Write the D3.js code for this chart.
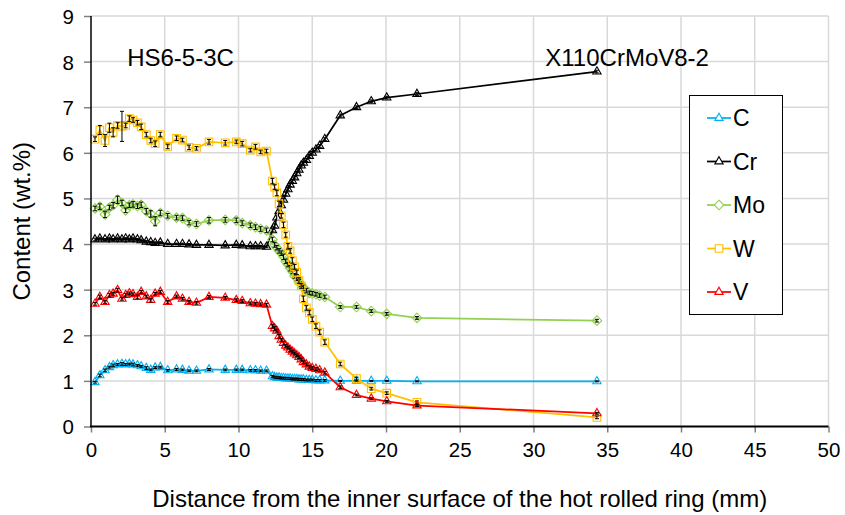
<!DOCTYPE html>
<html>
<head>
<meta charset="utf-8">
<script src="https://cdn.jsdelivr.net/npm/d3@7"></script>
<style>
  html, body { margin: 0; padding: 0; background: #fff; }
  svg { display: block; font-family: "Liberation Sans", Arial, sans-serif; }
</style>
</head>
<body>
<svg id="chart" width="845" height="515"></svg>
<script>
// ---------------- DATA ----------------
const distance = [
  0.27, 0.6, 0.95, 1.25, 1.5, 1.8, 2.1, 2.35, 2.6, 2.85, 3.15, 3.4, 3.75, 4.05, 4.35, 4.7,
  5.2, 5.8, 6.2, 6.65, 7.15, 8.0, 9.1, 9.85, 10.25, 10.8, 11.15, 11.5, 11.9,
  12.3, 12.45, 12.6, 12.75, 12.9, 13.05, 13.2, 13.35, 13.5, 13.65, 13.8, 13.95, 14.1, 14.25, 14.4, 14.6, 14.8, 15.0, 15.25, 15.5, 15.85,
  16.9, 18.0, 19.0, 20.05, 22.1, 34.3
];
const seriesNames = ["C", "Cr", "Mo", "W", "V"];
const valC = [
  0.97, 1.12, 1.23, 1.3, 1.34, 1.36, 1.37, 1.36, 1.37, 1.36, 1.34, 1.32, 1.28, 1.24, 1.29, 1.3,
  1.23, 1.25, 1.24, 1.22, 1.22, 1.25, 1.24, 1.24, 1.24, 1.23, 1.23, 1.22, 1.22,
  1.1, 1.08, 1.07, 1.07, 1.06, 1.06, 1.05, 1.05, 1.05, 1.04, 1.04, 1.04, 1.03, 1.03, 1.03, 1.02, 1.02, 1.02, 1.01, 1.01, 1.01,
  1.0, 1.0, 1.0, 1.0, 0.99, 0.99
];
const valCr = [
  4.1, 4.12, 4.1, 4.12, 4.1, 4.12, 4.1, 4.12, 4.1, 4.12, 4.1, 4.08, 4.05, 4.04, 4.02, 4.03,
  4.0, 4.0, 4.0, 3.99, 3.98, 3.98, 3.97, 3.98, 3.97, 3.95, 3.95, 3.95, 3.94,
  4.3, 4.4, 4.58, 4.72, 4.85, 4.97, 5.1, 5.2, 5.3, 5.38, 5.46, 5.55, 5.63, 5.72, 5.78, 5.84, 5.93, 6.0, 6.07, 6.15, 6.3,
  6.82, 7.0, 7.13, 7.21, 7.29, 7.78
];
const valMo = [
  4.78, 4.82, 4.65, 4.8, 4.85, 4.97, 4.9, 4.74, 4.85, 4.87, 4.83, 4.86, 4.72, 4.66, 4.5, 4.68,
  4.62, 4.58, 4.57, 4.47, 4.44, 4.52, 4.53, 4.52, 4.46, 4.41, 4.37, 4.33, 4.3,
  4.1, 3.98, 3.92, 3.85, 3.8, 3.72, 3.62, 3.55, 3.47, 3.4, 3.3, 3.26, 3.17, 3.12, 3.04, 2.98, 2.93, 2.92, 2.9, 2.87, 2.84,
  2.62, 2.62, 2.53, 2.47, 2.38, 2.32
];
const valW = [
  6.3, 6.5, 6.27, 6.55, 6.45, 6.6, 6.58, 6.6, 6.75, 6.72, 6.66, 6.57, 6.4, 6.27, 6.2, 6.4,
  6.14, 6.32, 6.28, 6.12, 6.1, 6.24, 6.22, 6.24, 6.2, 6.06, 6.13, 6.02, 6.04,
  5.38, 5.25, 5.12, 4.88, 4.62, 4.42, 4.2, 3.95, 3.85, 3.64, 3.5, 3.38, 3.2, 3.08, 2.8, 2.6, 2.5, 2.35, 2.2, 2.07, 1.85,
  1.37, 1.05, 0.83, 0.73, 0.53, 0.2
];
const valV = [
  2.69, 2.84, 2.73, 2.88, 2.91, 2.99, 2.8, 2.88, 2.92, 2.9, 2.84, 2.95, 2.85, 2.77, 2.91, 2.95,
  2.73, 2.85, 2.8, 2.73, 2.71, 2.84, 2.82, 2.77, 2.75, 2.7, 2.69, 2.68, 2.67,
  2.2, 2.15, 2.1, 1.98, 1.9, 1.83, 1.77, 1.73, 1.68, 1.64, 1.6, 1.56, 1.52, 1.47, 1.41, 1.36, 1.31, 1.28, 1.26, 1.23, 1.18,
  0.86, 0.69, 0.61, 0.55, 0.46, 0.29
];
// error bar half-widths (wt.%)
const errC = [
  0.02, 0.03, 0.03, 0.02, 0.03, 0.02, 0.03, 0.02, 0.02, 0.03, 0.02, 0.02, 0.03, 0.02, 0.02, 0.02,
  0.02, 0.02, 0.02, 0.02, 0.02, 0.02, 0.02, 0.02, 0.02, 0.02, 0.02, 0.02, 0.02,
  0.02, 0.02, 0.02, 0.02, 0.02, 0.02, 0.02, 0.02, 0.02, 0.02, 0.02, 0.02, 0.02, 0.02, 0.02, 0.02, 0.02, 0.02, 0.02, 0.02, 0.02,
  0.01, 0.01, 0.01, 0.01, 0.01, 0.01
];
const errCr = [
  0.03, 0.03, 0.02, 0.03, 0.02, 0.03, 0.03, 0.02, 0.03, 0.03, 0.02, 0.03, 0.03, 0.02, 0.03, 0.02,
  0.02, 0.02, 0.02, 0.02, 0.02, 0.02, 0.02, 0.02, 0.02, 0.02, 0.02, 0.02, 0.02,
  0.03, 0.04, 0.04, 0.03, 0.04, 0.03, 0.04, 0.03, 0.04, 0.03, 0.03, 0.04, 0.03, 0.03, 0.03, 0.03, 0.03, 0.03, 0.03, 0.03, 0.03,
  0.03, 0.03, 0.03, 0.03, 0.03, 0.03
];
const errMo = [
  0.05, 0.06, 0.07, 0.05, 0.06, 0.08, 0.06, 0.05, 0.05, 0.06, 0.05, 0.06, 0.06, 0.07, 0.1, 0.06,
  0.05, 0.05, 0.05, 0.05, 0.05, 0.06, 0.05, 0.05, 0.05, 0.05, 0.05, 0.05, 0.05,
  0.05, 0.05, 0.05, 0.05, 0.05, 0.06, 0.05, 0.05, 0.06, 0.05, 0.05, 0.06, 0.05, 0.05, 0.06, 0.05, 0.04, 0.04, 0.04, 0.04, 0.04,
  0.03, 0.03, 0.03, 0.03, 0.03, 0.03
];
const errW = [
  0.05, 0.1, 0.13, 0.1, 0.1, 0.06, 0.33, 0.05, 0.06, 0.05, 0.05, 0.06, 0.05, 0.05, 0.06, 0.05,
  0.05, 0.05, 0.04, 0.05, 0.04, 0.05, 0.05, 0.04, 0.05, 0.04, 0.05, 0.04, 0.04,
  0.06, 0.05, 0.06, 0.06, 0.05, 0.06, 0.05, 0.06, 0.05, 0.06, 0.05, 0.05, 0.06, 0.05, 0.06, 0.05, 0.05, 0.05, 0.05, 0.05, 0.05,
  0.04, 0.03, 0.03, 0.03, 0.03, 0.03
];
const errV = [
  0.03, 0.04, 0.03, 0.04, 0.03, 0.04, 0.03, 0.04, 0.03, 0.03, 0.04, 0.03, 0.03, 0.04, 0.03, 0.03,
  0.03, 0.03, 0.03, 0.03, 0.03, 0.03, 0.03, 0.03, 0.03, 0.03, 0.03, 0.03, 0.03,
  0.04, 0.04, 0.03, 0.04, 0.03, 0.04, 0.03, 0.03, 0.04, 0.03, 0.03, 0.03, 0.03, 0.03, 0.03, 0.03, 0.03, 0.03, 0.03, 0.03, 0.03,
  0.03, 0.02, 0.02, 0.02, 0.02, 0.02
];
const xTicks = [0, 5, 10, 15, 20, 25, 30, 35, 40, 45, 50];
const yTicks = [0, 1, 2, 3, 4, 5, 6, 7, 8, 9];
const xTitle = "Distance from the inner surface of the hot rolled ring (mm)";
const yTitle = "Content (wt.%)";
const annotations = [{text: "HS6-5-3C", x: 2.45, y: 8.1}, {text: "X110CrMoV8-2", x: 30.8, y: 8.1}];

// ---------------- STYLE ----------------
const series = [
  {name: "C",  values: valC,  err: errC,  color: "#00B0F0", marker: "triangle"},
  {name: "Cr", values: valCr, err: errCr, color: "#000000", marker: "triangle"},
  {name: "Mo", values: valMo, err: errMo, color: "#92D050", marker: "diamond"},
  {name: "W",  values: valW,  err: errW,  color: "#FFC000", marker: "square"},
  {name: "V",  values: valV,  err: errV,  color: "#FF0000", marker: "triangle"}
];

const margin = {left: 91, right: 845 - 828.5, top: 16, bottom: 515 - 426.5};
const W = 845, H = 515;
const svg = d3.select("#chart");

const x = d3.scaleLinear().domain([0, 50]).range([margin.left, W - margin.right]);
const y = d3.scaleLinear().domain([0, 9]).range([H - margin.bottom, margin.top]);

// gridlines
const grid = svg.append("g");
grid.selectAll("line.v").data(xTicks.filter(d => d > 0)).join("line")
  .attr("x1", d => x(d)).attr("x2", d => x(d))
  .attr("y1", y(0)).attr("y2", y(9))
  .attr("stroke", "#D9D9D9").attr("stroke-width", 1.5);
grid.selectAll("line.h").data(yTicks.filter(d => d > 0)).join("line")
  .attr("x1", x(0)).attr("x2", x(50))
  .attr("y1", d => y(d)).attr("y2", d => y(d))
  .attr("stroke", "#D9D9D9").attr("stroke-width", 1.5);

// axes
const xAxis = svg.append("g").attr("transform", `translate(0,${y(0)})`)
  .call(d3.axisBottom(x).tickValues(xTicks).tickSize(6).tickPadding(10).tickFormat(d3.format("d")));
const yAxis = svg.append("g").attr("transform", `translate(${x(0)},0)`)
  .call(d3.axisLeft(y).tickValues(yTicks).tickSize(7).tickPadding(10).tickFormat(d3.format("d")));
[xAxis, yAxis].forEach(a => {
  a.selectAll(".tick line").attr("stroke", "#808080").attr("stroke-width", 1.5);
  a.selectAll(".tick text").attr("font-size", 20.5).attr("fill", "#000")
    .attr("font-family", '"Liberation Sans", Arial, sans-serif');
  a.select(".domain").remove();
});
yAxis.selectAll(".tick text").attr("dy", "0.36em");

// clip for data
svg.append("clipPath").attr("id", "plotclip").append("rect")
  .attr("x", x(0) - 8).attr("y", y(9) - 8).attr("width", x(50) - x(0) + 16).attr("height", y(0) - y(9) + 16);

const markerPath = {
  triangle: d3.symbol().type(d3.symbolTriangle).size(30)(),
  square: "M-3.8,-3.8H3.8V3.8H-3.8Z",
  diamond: "M0,-4.8L4.8,0L0,4.8L-4.8,0Z"
};

const plot = svg.append("g").attr("clip-path", "url(#plotclip)");
const line = d3.line().x(d => x(d.x)).y(d => y(d.v));

series.forEach(s => {
  const pts = distance.map((d, i) => ({x: d, v: s.values[i], e: s.err[i]}));
  const g = plot.append("g");
  g.append("path").datum(pts).attr("d", line)
    .attr("fill", "none").attr("stroke", s.color).attr("stroke-width", 1.75)
    .attr("stroke-linejoin", "round");
  g.selectAll("path.mk").data(pts).join("path").attr("class", "mk")
    .attr("d", markerPath[s.marker])
    .attr("transform", d => `translate(${x(d.x)},${y(d.v)})`)
    .attr("fill", "none").attr("stroke", s.color).attr("stroke-width", 1.1);
  const eb = g.append("g").attr("stroke", "#000").attr("stroke-width", 1);
  eb.selectAll("line.bar").data(pts).join("line")
    .attr("x1", d => x(d.x)).attr("x2", d => x(d.x))
    .attr("y1", d => y(d.v - d.e)).attr("y2", d => y(d.v + d.e));
  eb.selectAll("line.capT").data(pts).join("line")
    .attr("x1", d => x(d.x) - 2).attr("x2", d => x(d.x) + 2)
    .attr("y1", d => y(d.v + d.e)).attr("y2", d => y(d.v + d.e));
  eb.selectAll("line.capB").data(pts).join("line")
    .attr("x1", d => x(d.x) - 2).attr("x2", d => x(d.x) + 2)
    .attr("y1", d => y(d.v - d.e)).attr("y2", d => y(d.v - d.e));
});

// axis lines
svg.append("line").attr("x1", x(0)).attr("x2", x(0)).attr("y1", y(9)).attr("y2", y(0))
  .attr("stroke", "#000").attr("stroke-width", 1.5);
svg.append("line").attr("x1", x(0) - 1).attr("x2", x(50)).attr("y1", y(0)).attr("y2", y(0))
  .attr("stroke", "#000").attr("stroke-width", 2.2);

// titles
svg.append("text").attr("x", (x(0) + x(50)) / 2).attr("y", 498).attr("dy", "0.36em")
  .attr("text-anchor", "middle").attr("font-size", 24).text(xTitle);
svg.append("text").attr("transform", `translate(21,${(y(0) + y(9)) / 2}) rotate(-90)`)
  .attr("dy", "0.36em").attr("text-anchor", "middle").attr("font-size", 24).text(yTitle);

// annotations
svg.selectAll("text.ann").data(annotations).join("text").attr("class", "ann")
  .attr("x", d => x(d.x)).attr("y", d => y(d.y)).attr("dy", "0.36em")
  .attr("font-size", 24).text(d => d.text);

// legend
const lg = svg.append("g");
lg.append("rect").attr("x", 689.5).attr("y", 95.5).attr("width", 93).attr("height", 219)
  .attr("fill", "#fff").attr("stroke", "#000").attr("stroke-width", 1);
const lgY = d3.scalePoint().domain(seriesNames).range([118, 292]);
series.forEach(s => {
  const cy = lgY(s.name);
  lg.append("line").attr("x1", 707).attr("x2", 731).attr("y1", cy).attr("y2", cy)
    .attr("stroke", s.color).attr("stroke-width", 1.75);
  lg.append("path").attr("d", markerPath[s.marker]).attr("transform", `translate(719,${cy})`)
    .attr("fill", "#fff").attr("stroke", s.color).attr("stroke-width", 1.1);
  lg.append("text").attr("x", 733).attr("y", cy).attr("dy", "0.36em")
    .attr("font-size", 23).text(s.name);
});
</script>
</body>
</html>
